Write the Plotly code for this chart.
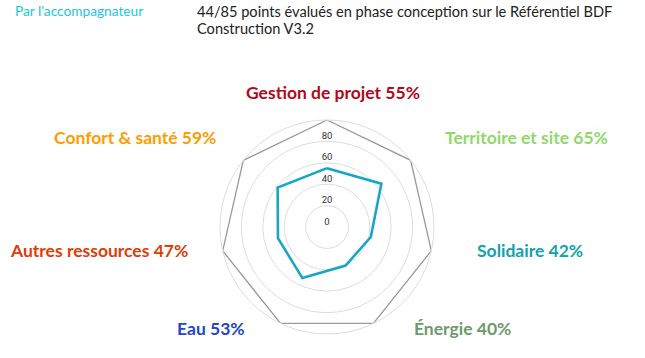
import plotly.graph_objects as go

W, H = 645, 358

categories = ["Gestion de projet", "Territoire et site", "Solidaire", "Énergie",
              "Eau", "Autres ressources", "Confort & santé"]
scores = [55, 65, 42, 40, 53, 47, 59]
max_values = [100, 100, 100, 100, 100, 100, 100]
label_colors = ["#b0081c", "#8fd86b", "#12a3ad", "#6e9a6a", "#2347cc", "#e03c08", "#ff9c00"]
tick_values = [0, 20, 40, 60, 80]
tick_labels = ["0", "20", "40", "60", "80"]

# label placement (pixels) : x, y, anchor
label_pos = [(333, 92, "center"), (443, 137, "left"), (475, 250, "left"),
             (412, 328, "left"), (247, 328, "right"), (190, 250, "right"),
             (218, 137, "right")]

cx, cy, R = 327, 227, 107

fig = go.Figure()
fig.add_trace(go.Scatterpolar(
    r=max_values + [max_values[0]], theta=categories + [categories[0]],
    mode="lines", line=dict(color="#9a9a9a", width=1.3), hoverinfo="skip"))
fig.add_trace(go.Scatterpolar(
    r=scores + [scores[0]], theta=categories + [categories[0]],
    mode="lines", line=dict(color="#17a7c4", width=2.6)))
fig.add_trace(go.Scatterpolar(
    r=tick_values, theta=[categories[0]] * len(tick_values), text=tick_labels,
    mode="text", textposition="top center",
    textfont=dict(family="Roboto, Arial", size=9.5, color="#333"), hoverinfo="skip"))

annotations = []
for cat, val, col, (x, y, anc) in zip(categories, scores, label_colors, label_pos):
    annotations.append(dict(
        text=f"<b>{cat} {val}%</b>", x=x / W, y=1 - y / H, xref="paper", yref="paper",
        xanchor=anc, yanchor="middle", showarrow=False,
        font=dict(family="Lato", size=17.5, color=col)))
annotations.append(dict(
    text="Par l'accompagnateur", x=13 / W, y=1 - 10 / H, xref="paper", yref="paper",
    xanchor="left", yanchor="middle", showarrow=False,
    font=dict(family="Lato", size=13.7, color="#1cc6de")))
for txt, y in [("44/85 points évalués en phase conception sur le Référentiel BDF", 11),
               ("Construction V3.2", 28)]:
    annotations.append(dict(
        text=txt, x=195 / W, y=1 - y / H, xref="paper", yref="paper", align="left",
        xanchor="left", yanchor="middle", showarrow=False,
        font=dict(family="Lato", size=14.6, color="#222")))

fig.update_layout(
    width=W, height=H, margin=dict(l=0, r=0, t=0, b=0),
    paper_bgcolor="white", plot_bgcolor="white", showlegend=False,
    annotations=annotations,
    polar=dict(
        domain=dict(x=[(cx - R) / W, (cx + R) / W], y=[1 - (cy + R) / H, 1 - (cy - R) / H]),
        bgcolor="white",
        radialaxis=dict(range=[0, 100], dtick=20, showticklabels=False, ticks="",
                        showline=False, gridcolor="#dddddd", gridwidth=1),
        angularaxis=dict(direction="clockwise", rotation=90, showgrid=False,
                         showticklabels=False, ticks="", showline=True,
                         linecolor="#dddddd", linewidth=1),
    ),
)

fig.write_html("out.html", config={"displayModeBar": False},
               post_script="document.body.style.margin='0';")
